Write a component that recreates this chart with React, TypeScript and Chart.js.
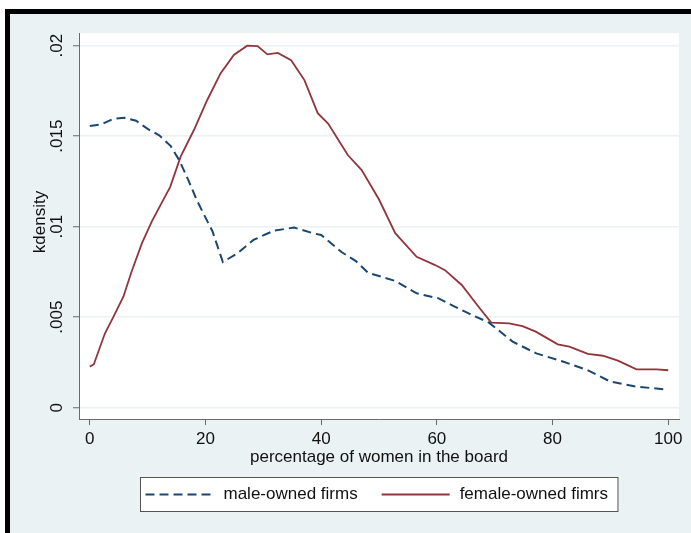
import React, { useEffect, useRef } from "react";
import { Chart, registerables } from "chart.js";

Chart.register(...registerables);

// ---- data ----
const maleX = [0, 2, 4, 6, 8, 10, 12, 14, 15.5, 17, 18.5, 20, 21.2, 23, 25.4, 28.3, 31.8, 35.3, 38.7, 40, 43.5, 46, 48.1, 52.8, 56.5, 60.3, 63, 65.5, 69, 73.1, 77.2, 81.9, 86, 90, 94.5, 100];
const maleY = [0.01556, 0.01565, 0.01595, 0.01602, 0.01585, 0.0154, 0.01505, 0.01445, 0.01365, 0.0126, 0.01146, 0.0105, 0.00975, 0.00805, 0.0085, 0.00927, 0.00978, 0.00995, 0.00963, 0.00954, 0.0086, 0.0081, 0.00746, 0.007, 0.00632, 0.00604, 0.0056, 0.00521, 0.0047, 0.00365, 0.003, 0.00254, 0.00208, 0.00144, 0.00116, 0.001];

const femaleX = [0, 0.7, 2.6, 4.1, 5.8, 7.2, 9, 10.7, 12.7, 13.9, 15.7, 18, 20.3, 22.6, 24.9, 27.2, 29, 30.7, 32.5, 34.8, 37.1, 39.4, 41.2, 44.6, 47, 50, 52.8, 56.5, 59.7, 61.4, 64.3, 67.2, 69.4, 72.5, 74.8, 77.1, 80.9, 82.9, 86.1, 88.7, 91.3, 94.5, 98, 100];
const femaleY = [0.00227, 0.0024, 0.0041, 0.00503, 0.00613, 0.0075, 0.00908, 0.01028, 0.01148, 0.0122, 0.01387, 0.01534, 0.017, 0.01847, 0.01949, 0.02, 0.01998, 0.01952, 0.0196, 0.0192, 0.0181, 0.01627, 0.0157, 0.01396, 0.01313, 0.0115, 0.00964, 0.00834, 0.00788, 0.0076, 0.00678, 0.00558, 0.0047, 0.00466, 0.00451, 0.0042, 0.0035, 0.00337, 0.00297, 0.00287, 0.0026, 0.00212, 0.00212, 0.00207];

const xTicks = [0, 20, 40, 60, 80, 100];
const yTicks = [0, 0.005, 0.01, 0.015, 0.02];
const yTickLabels = ["0", ".005", ".01", ".015", ".02"];
const seriesLabels = ["male-owned firms", "female-owned fimrs"];
const xTitle = "percentage of women in the board";
const yTitle = "kdensity";

const MALE_COLOR = "#1a476f";
const FEMALE_COLOR = "#90353b";
const BG = "#eaf2f3";
const AXIS = "#6a6a6a";
const FONT = '17px "Liberation Sans", Arial, sans-serif';

const stataPlugin = {
  id: "stataDecor",
  beforeDraw(chart: any) {
    const { ctx, chartArea: a } = chart;
    ctx.save();
    ctx.fillStyle = "#ffffff";
    ctx.fillRect(a.left, a.top, a.right - a.left, a.bottom - a.top);
    ctx.restore();
  },
  afterDraw(chart: any) {
    const { ctx, chartArea: a } = chart;
    const yScale = chart.scales.y;
    ctx.save();
    ctx.font = FONT;
    ctx.fillStyle = "#111";
    // y tick labels (rotated, Stata style)
    yTicks.forEach((v, i) => {
      const py = yScale.getPixelForValue(v);
      ctx.save();
      ctx.translate(a.left - 21.5, py);
      ctx.rotate(-Math.PI / 2);
      ctx.textAlign = "center";
      ctx.textBaseline = "middle";
      ctx.fillText(yTickLabels[i], 0, 0);
      ctx.restore();
    });
    // y title
    ctx.save();
    ctx.translate(a.left - 39, (a.top + a.bottom) / 2 - 4);
    ctx.rotate(-Math.PI / 2);
    ctx.textAlign = "center";
    ctx.textBaseline = "middle";
    ctx.fillText(yTitle, 0, 0);
    ctx.restore();
    // x title
    ctx.textAlign = "center";
    ctx.textBaseline = "middle";
    ctx.fillText(xTitle, (a.left + a.right) / 2, a.bottom + 38);

    // legend
    const w1 = ctx.measureText(seriesLabels[0]).width;
    const w2 = ctx.measureText(seriesLabels[1]).width;
    const keyLen = 68, inset = 5, gapKT = 10, gapItems = 24, rightPad = 10;
    const boxW = inset + keyLen + gapKT + w1 + gapItems + keyLen + gapKT + w2 + rightPad;
    const bx = Math.round((a.left + a.right) / 2 - boxW / 2) + 0.5;
    const by = Math.round(a.bottom + 58) + 0.5;
    const bh = 34;
    ctx.fillStyle = "#ffffff";
    ctx.fillRect(bx, by, boxW, bh);
    ctx.strokeStyle = "#555";
    ctx.lineWidth = 1;
    ctx.strokeRect(bx, by, boxW, bh);
    const cy = by + bh / 2;
    const ds = chart.data.datasets;
    let x = bx + inset;
    ctx.beginPath();
    ctx.setLineDash(ds[0].borderDash || []);
    ctx.strokeStyle = ds[0].borderColor;
    ctx.lineWidth = ds[0].borderWidth;
    ctx.moveTo(x, cy);
    ctx.lineTo(x + keyLen, cy);
    ctx.stroke();
    x += keyLen + gapKT;
    ctx.fillStyle = "#111";
    ctx.textAlign = "left";
    ctx.fillText(seriesLabels[0], x, cy);
    x += w1 + gapItems;
    ctx.beginPath();
    ctx.setLineDash([]);
    ctx.strokeStyle = ds[1].borderColor;
    ctx.lineWidth = ds[1].borderWidth;
    ctx.moveTo(x, cy);
    ctx.lineTo(x + keyLen, cy);
    ctx.stroke();
    x += keyLen + gapKT;
    ctx.fillText(seriesLabels[1], x, cy);
    ctx.restore();
  },
};

export default function App() {
  const ref = useRef<HTMLCanvasElement | null>(null);

  useEffect(() => {
    if (!ref.current) return;
    const chart = new Chart(ref.current, {
      type: "line",
      data: {
        datasets: [
          {
            label: seriesLabels[0],
            data: maleX.map((x, i) => ({ x, y: maleY[i] })),
            borderColor: MALE_COLOR,
            borderWidth: 2,
            borderDash: [9, 5],
            pointRadius: 0,
            tension: 0,
            fill: false,
          },
          {
            label: seriesLabels[1],
            data: femaleX.map((x, i) => ({ x, y: femaleY[i] })),
            borderColor: FEMALE_COLOR,
            borderWidth: 1.8,
            pointRadius: 0,
            tension: 0,
            fill: false,
          },
        ],
      },
      options: {
        animation: false,
        responsive: false,
        devicePixelRatio: 1,
        layout: { padding: { top: 19, right: 12, left: 0, bottom: 0 } },
        plugins: {
          legend: { display: false },
          tooltip: { enabled: false },
          title: { display: false },
        },
        scales: {
          x: {
            type: "linear",
            min: -1.87,
            max: 101.86,
            afterBuildTicks: (s: any) => {
              s.ticks = xTicks.map((v) => ({ value: v }));
            },
            afterFit: (s: any) => {
              s.height = 114;
            },
            ticks: {
              color: "#111",
              font: { family: '"Liberation Sans", Arial, sans-serif', size: 17 },
              padding: 4,
              maxRotation: 0,
              minRotation: 0,
              autoSkip: false,
              callback: (v: any) => String(v),
            },
            grid: {
              drawOnChartArea: false,
              drawTicks: true,
              tickLength: 6,
              tickColor: AXIS,
              tickWidth: 1,
            },
            border: { display: true, color: AXIS, width: 1 },
          },
          y: {
            type: "linear",
            min: -0.000624,
            max: 0.0207,
            afterBuildTicks: (s: any) => {
              s.ticks = yTicks.map((v) => ({ value: v }));
            },
            afterFit: (s: any) => {
              s.width = 69;
            },
            ticks: { display: false },
            grid: {
              drawOnChartArea: true,
              color: BG,
              lineWidth: 1.5,
              drawTicks: true,
              tickLength: 6,
              tickColor: AXIS,
              tickWidth: 1,
            },
            border: { display: true, color: AXIS, width: 1 },
          },
        },
      },
      plugins: [stataPlugin],
    } as any);
    return () => chart.destroy();
  }, []);

  return (
    <div
      style={{
        position: "absolute",
        left: 0,
        top: 0,
        width: 691,
        height: 533,
        background: "#ffffff",
        overflow: "hidden",
      }}
    >
      <div
        style={{
          position: "absolute",
          left: 5,
          top: 9,
          width: 686,
          height: 524,
          boxSizing: "border-box",
          borderTop: "5px solid #000",
          borderLeft: "5px solid #000",
          background: BG,
        }}
      >
        <canvas ref={ref} width={681} height={519} style={{ display: "block", width: 681, height: 519 }} />
      </div>
    </div>
  );
}
